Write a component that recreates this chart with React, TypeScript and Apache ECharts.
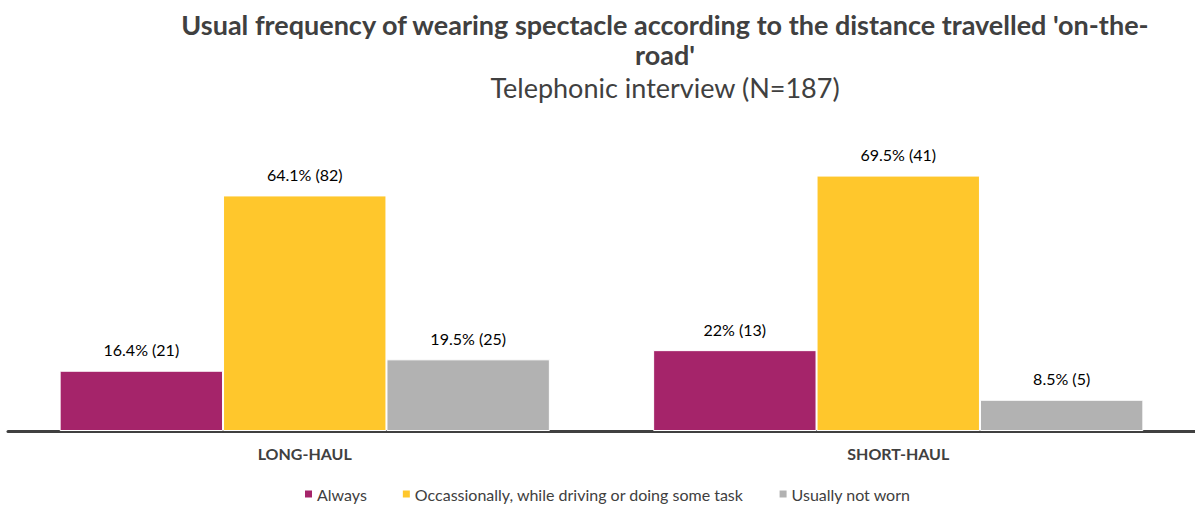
import React, { useEffect, useRef } from "react";
import * as echarts from "echarts";

const categories = ["LONG-HAUL", "SHORT-HAUL"];
const seriesNames = [
  "Always",
  "Occassionally, while driving or doing some task",
  "Usually not worn",
];
const alwaysPct = [16.4, 22];
const occasionallyPct = [64.1, 69.5];
const notWornPct = [19.5, 8.5];
const alwaysN = [21, 13];
const occasionallyN = [82, 41];
const notWornN = [25, 5];
const colors = ["#A5246A", "#FFC72C", "#B2B2B2"];

export default function App() {
  const ref = useRef<HTMLDivElement>(null);
  useEffect(() => {
    document.body.style.margin = "0";
    const chart = echarts.init(ref.current!, undefined, { renderer: "svg" });
    const pcts = [alwaysPct, occasionallyPct, notWornPct];
    const counts = [alwaysN, occasionallyN, notWornN];
    const font = "Lato, 'Noto Sans', sans-serif";
    chart.setOption({
      animation: false,
      textStyle: { fontFamily: font },
      title: [
        {
          text: "Usual frequency of wearing spectacle according to the distance travelled 'on-the-\nroad'",
          left: 660,
          top: 4,
          textAlign: "center",
          textStyle: {
            fontFamily: font,
            fontSize: 27,
            fontWeight: "bold",
            color: "#404040",
            lineHeight: 30,
          },
        },
        {
          text: "Telephonic interview (N=187)",
          left: 660,
          top: 69,
          textAlign: "center",
          textStyle: {
            fontFamily: font,
            fontSize: 27,
            fontWeight: "normal",
            color: "#404040",
          },
        },
      ],
      legend: {
        top: 481,
        left: 298,
        itemWidth: 9,
        itemHeight: 9,
        itemGap: 34,
        icon: "rect",
        textStyle: { fontFamily: font, fontSize: 16, color: "#404040", padding: [0, 0, 0, -1] },
        data: seriesNames,
      },
      grid: { left: 8, right: 0, top: 137, bottom: 75 },
      xAxis: {
        type: "category",
        data: categories,
        axisLine: { lineStyle: { color: "#404040", width: 3 } },
        axisTick: { show: false },
        axisLabel: {
          fontFamily: font,
          fontSize: 16,
          fontWeight: "bold",
          color: "#404040",
          margin: 14,
        },
      },
      yAxis: {
        type: "value",
        min: 0,
        max: 80,
        show: false,
        splitLine: { show: false },
      },
      series: seriesNames.map((name, i) => ({
        name,
        type: "bar",
        data: pcts[i],
        barGap: "0%",
        barCategoryGap: "17.4%",
        itemStyle: { color: colors[i], borderColor: "#ffffff", borderWidth: 1 },
        label: {
          show: true,
          position: "top",
          distance: 13,
          fontFamily: font,
          fontSize: 16,
          color: "#000000",
          formatter: (p: any) => `${p.value}% (${counts[i][p.dataIndex]})`,
        },
      })),
    });
    return () => chart.dispose();
  }, []);
  return <div ref={ref} style={{ width: 1195, height: 506 }} />;
}
